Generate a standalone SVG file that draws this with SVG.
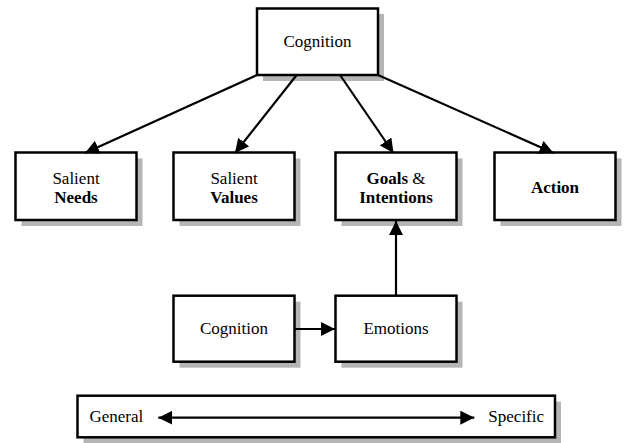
<svg xmlns="http://www.w3.org/2000/svg" width="625" height="443" viewBox="0 0 625 443">
<style>
.sh{fill:#b5b5b5;stroke:none}
.bx{fill:#fff;stroke:#000;stroke-width:2.5}
text{font-family:"Liberation Serif","Times New Roman",serif;font-size:17px;fill:#000;text-anchor:middle}
.b{font-weight:bold}
.ln{stroke:#000;stroke-width:2.2;fill:none}
</style>
<defs>
<marker id="ah" viewBox="0 0 14 14" refX="14" refY="7" markerWidth="14" markerHeight="14" markerUnits="userSpaceOnUse" orient="auto-start-reverse">
<path d="M0,0 L14,7 L0,14 Z" fill="#000"/>
</marker>
</defs>
<rect x="0" y="0" width="625" height="443" fill="#fff"/>
<g id="node-cognition-top">
<rect class="sh" x="263" y="14" width="121" height="67"/>
<rect class="bx" x="257" y="8.5" width="121" height="66.5"/>
<text x="317.5" y="46.5">Cognition</text>
</g>
<g id="node-needs">
<rect class="sh" x="21.5" y="158.5" width="121" height="67.5"/>
<rect class="bx" x="15.5" y="152.5" width="121" height="67.5"/>
<text x="76" y="184">Salient</text>
<text x="76" y="203" class="b">Needs</text>
</g>
<g id="node-values">
<rect class="sh" x="179.5" y="158.5" width="121" height="67.5"/>
<rect class="bx" x="173.5" y="152.5" width="121" height="67.5"/>
<text x="234" y="184">Salient</text>
<text x="234" y="203" class="b">Values</text>
</g>
<g id="node-goals">
<rect class="sh" x="341.5" y="158.5" width="121" height="67.5"/>
<rect class="bx" x="335.5" y="152.5" width="121" height="67.5"/>
<text x="396" y="184" class="b">Goals <tspan font-weight="normal">&amp;</tspan></text>
<text x="396" y="203" class="b">Intentions</text>
</g>
<g id="node-action">
<rect class="sh" x="500.5" y="158.5" width="121" height="67.5"/>
<rect class="bx" x="494.5" y="152.5" width="121" height="67.5"/>
<text x="555" y="192.7" class="b">Action</text>
</g>
<g id="node-cognition-bottom">
<rect class="sh" x="179.5" y="301.7" width="121" height="66"/>
<rect class="bx" x="173.5" y="295.7" width="121" height="66"/>
<text x="234" y="333.5">Cognition</text>
</g>
<g id="node-emotions">
<rect class="sh" x="341.5" y="301.7" width="121" height="66"/>
<rect class="bx" x="335.5" y="295.7" width="121" height="66"/>
<text x="396" y="333.5">Emotions</text>
</g>
<g id="node-scale">
<rect class="sh" x="83.5" y="401.7" width="477.5" height="41.6"/>
<rect class="bx" x="77.5" y="395.7" width="477.5" height="41.6"/>
<text x="116.3" y="421.7">General</text>
<text x="516.2" y="422">Specific</text>
</g>
<g id="connectors">
<line class="ln" x1="257" y1="75" x2="85" y2="153" marker-end="url(#ah)"/>
<line class="ln" x1="296.7" y1="75" x2="235" y2="153" marker-end="url(#ah)"/>
<line class="ln" x1="340" y1="75" x2="393.5" y2="153" marker-end="url(#ah)"/>
<line class="ln" x1="378" y1="75" x2="553.5" y2="153" marker-end="url(#ah)"/>
<line class="ln" x1="396" y1="295.7" x2="396" y2="221" marker-end="url(#ah)"/>
<line class="ln" x1="294.5" y1="329" x2="335" y2="329" marker-end="url(#ah)"/>
<line class="ln" x1="158.3" y1="417.7" x2="474.3" y2="417.7" marker-start="url(#ah)" marker-end="url(#ah)"/>
</g>
</svg>
